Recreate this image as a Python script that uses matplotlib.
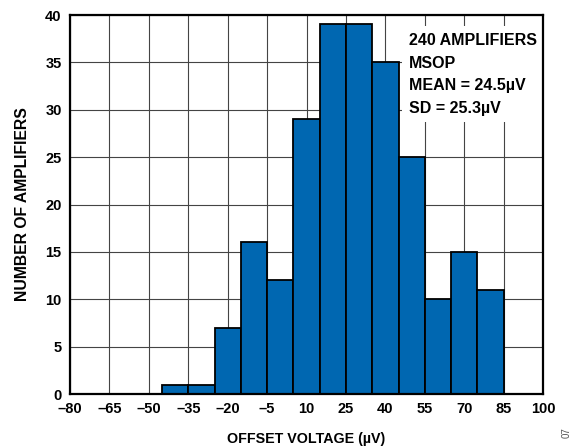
import numpy as np
import matplotlib.pyplot as plt

plt.rcParams['font.family'] = ['Liberation Sans', 'DejaVu Sans']
plt.rcParams['axes.unicode_minus'] = False

# histogram bins (center, uV) and counts
bin_centers = [-50, -40, -30, -20, -10, 0, 10, 20, 30, 40, 50, 60, 70, 80, 90]
counts = [0, 1, 1, 7, 16, 12, 29, 39, 39, 35, 25, 10, 15, 11, 0]
x_ticks = [-80, -65, -50, -35, -20, -5, 10, 25, 40, 55, 70, 85, 100]
y_ticks = [0, 5, 10, 15, 20, 25, 30, 35, 40]
info_lines = ['240 AMPLIFIERS', 'MSOP', 'MEAN = 24.5\u00b5V', 'SD = 25.3\u00b5V']

fig = plt.figure(figsize=(5.79, 4.48), dpi=100)
ax = fig.add_axes([0.121, 0.1205, 0.817, 0.846])

ax.bar(bin_centers, counts, width=10, color='#0067b1', edgecolor='black',
       linewidth=1.3, zorder=3)

ax.set_xlim(-80, 100)
ax.set_ylim(0, 40)
ax.set_xticks(x_ticks)
ax.set_xticklabels([str(t).replace('-', '\u2013') for t in x_ticks])
ax.set_yticks(y_ticks)
ax.tick_params(length=0, labelsize=10.5, pad=6)
for lbl in ax.get_xticklabels() + ax.get_yticklabels():
    lbl.set_fontweight('bold')

ax.grid(True, color='#444444', linewidth=0.8, zorder=0)
ax.set_axisbelow(True)
for s in ax.spines.values():
    s.set_linewidth(1.6)
    s.set_zorder(6)

ax.set_xlabel('OFFSET VOLTAGE (\u00b5V)', fontsize=10.3, fontweight='bold', labelpad=11)
ax.set_ylabel('NUMBER OF AMPLIFIERS', fontsize=11.3, fontweight='bold', labelpad=11)

# summary block over the upper-right grid
ax.text(0.717, 0.952, '\n'.join(info_lines), transform=ax.transAxes,
        ha='left', va='top', fontsize=11.5, fontweight='bold', linespacing=1.62,
        zorder=5, bbox=dict(facecolor='white', edgecolor='none', pad=5))

fig.text(0.978, 0.035, '07', rotation=90, fontsize=7, color='#555555',
         ha='center', va='center')

fig.savefig('out.png', dpi=100)
